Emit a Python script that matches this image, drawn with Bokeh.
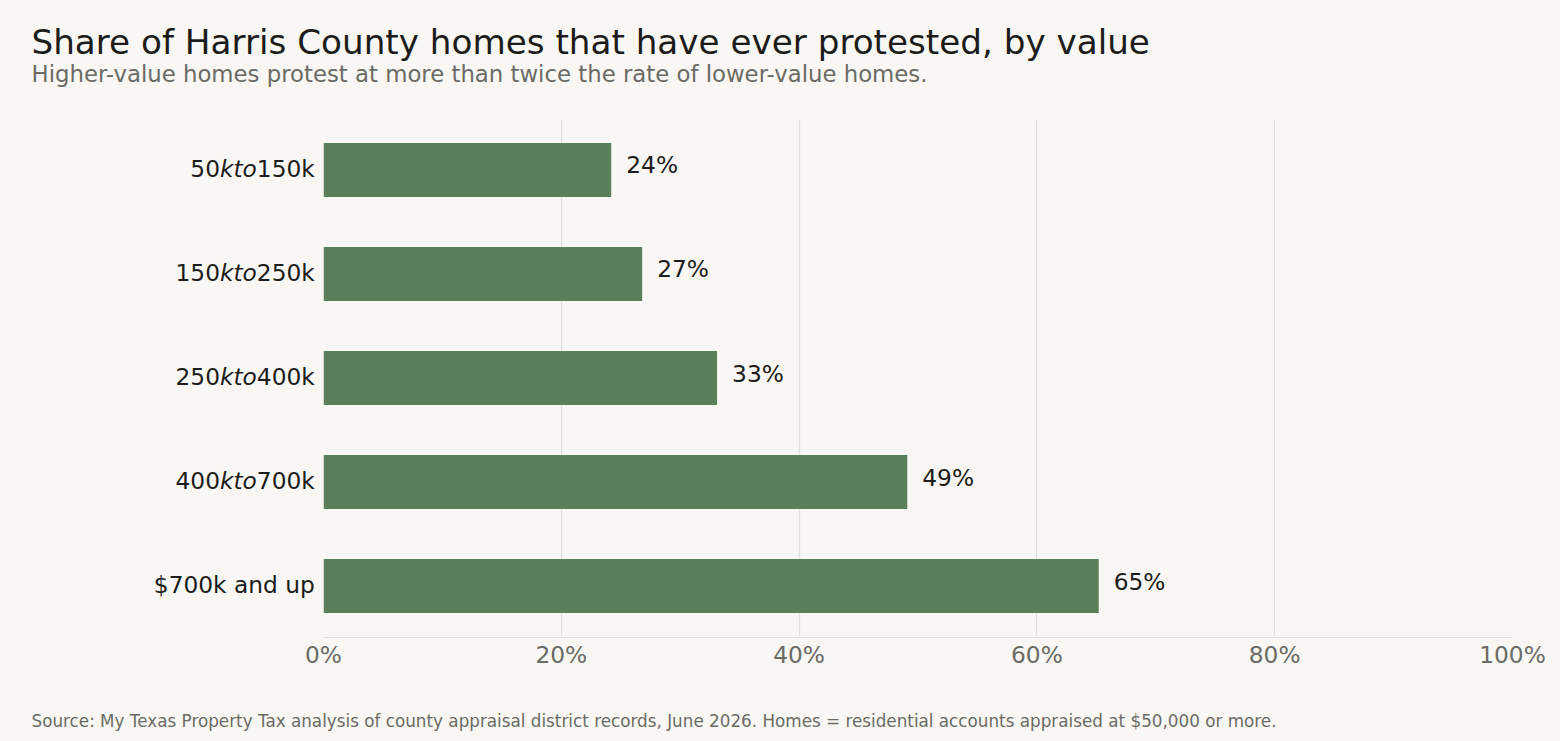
from bokeh.plotting import figure
from bokeh.layouts import column, row
from bokeh.models import Range1d, FixedTicker, PrintfTickFormatter
from bokeh.core.properties import value
from bokeh.embed import file_html
from bokeh.resources import INLINE

# ---- data ----
label_head = ["50", "150", "250", "400", "$700k and up"]
label_mid = ["kto", "kto", "kto", "kto", ""]
label_tail = ["150k", "250k", "400k", "700k", ""]
shares = [24.2, 26.8, 33.1, 49.1, 65.2]
x_ticks = [0, 20, 40, 60, 80, 100]

title = "Share of Harris County homes that have ever protested, by value"
subtitle = "Higher-value homes protest at more than twice the rate of lower-value homes."
footer = ("Source: My Texas Property Tax analysis of county appraisal district records, "
          "June 2026. Homes = residential accounts appraised at $50,000 or more.")

# ---- style ----
BG = "#f8f7f3"
BAR = "#5b7f5b"
DARK = "#1c1c1a"
GRAY = "#6b6b66"
GRID = "#e2e0da"
FONT = "DejaVu Sans"
TICK_PX = 23.3
BASE_FIX = 0.3  # baseline correction (em) for text glyphs

W, H = 1560, 741
HEAD_H = 99
MID_H = 537
AXIS_H = 53
FOOT_H = H - HEAD_H - MID_H - AXIS_H
LABEL_W = 323
FRAME_L, FRAME_R = 323, 48

# DejaVu Sans advance widths (em) for measuring label pieces
ADV = {c: 0.636 for c in "0123456789"}
ADV.update({"k": 0.579, "t": 0.392, "o": 0.612})


def text_width(s, px):
    return sum(ADV.get(c, 0.6) for c in s) * px


def blank(w, h, **kw):
    f = figure(width=w, height=h, x_axis_type=None, y_axis_type=None,
               output_backend="svg", toolbar_location=None,
               background_fill_color=BG, border_fill_color=BG,
               min_border=0, **kw)
    f.outline_line_color = None
    return f


n = len(shares)
ypos = [n - 1 - i for i in range(n)]
vals_txt = [f"{round(v)}%" for v in shares]
yr = Range1d(-0.485, n - 1 + 0.485)
xr = Range1d(0, 100)

# ---- header ----
head = blank(W, HEAD_H, x_range=Range1d(0, W), y_range=Range1d(HEAD_H, 0))
head.text(x=[31], y=[51.7 - BASE_FIX * 34.2], text=[title], text_font=value(FONT),
          text_font_size="34.2px", text_color=DARK, text_baseline="alphabetic")
head.text(x=[31], y=[80 - BASE_FIX * 22.8], text=[subtitle], text_font=value(FONT),
          text_font_size="22.8px", text_color=GRAY, text_baseline="alphabetic")

# ---- main chart ----
p = figure(width=W - LABEL_W, height=MID_H,
           min_border_left=0, min_border_right=FRAME_R,
           min_border_top=119 - HEAD_H, min_border_bottom=0,
           x_range=xr, y_range=yr,
           output_backend="svg", toolbar_location=None,
           background_fill_color=BG, border_fill_color=BG)
p.outline_line_color = None
p.hbar(y=ypos, right=shares, left=0, height=0.52, color=BAR, line_color=None)
p.text(x=shares, y=ypos, text=vals_txt, x_offset=15, y_offset=-5,
       text_align="left", text_baseline="middle", text_font=value(FONT),
       text_font_size=f"{TICK_PX}px", text_color=DARK)
p.xaxis.visible = False
p.yaxis.visible = False
p.xgrid.ticker = FixedTicker(ticks=x_ticks)
p.xgrid.grid_line_color = GRID
p.xgrid.grid_line_width = 1.2
p.ygrid.grid_line_color = None

# ---- x axis strip ----
ax = figure(width=W, height=AXIS_H, x_range=xr, y_range=Range1d(0, 1),
            y_axis_type=None, min_border_left=FRAME_L, min_border_right=FRAME_R,
            min_border_top=0, min_border_bottom=AXIS_H - 1,
            output_backend="svg", toolbar_location=None,
            background_fill_color=BG, border_fill_color=BG)
ax.outline_line_color = None
ax.xgrid.grid_line_color = None
xa = ax.xaxis[0]
xa.ticker = FixedTicker(ticks=x_ticks)
xa.formatter = PrintfTickFormatter(format="%d%%")
xa.major_tick_line_color = None
xa.minor_tick_line_color = None
xa.major_tick_out = 0
xa.major_tick_in = 0
xa.minor_tick_out = 0
xa.axis_line_color = GRID
xa.axis_line_width = 1.2
xa.major_label_standoff = 3
xa.major_label_text_font = FONT
xa.major_label_text_font_size = f"{TICK_PX}px"
xa.major_label_text_color = GRAY

# ---- category labels (mathtext-like: middle part italic) ----
lab = blank(LABEL_W, MID_H, x_range=Range1d(0, LABEL_W), y_range=yr)
lab.min_border_top = 119 - HEAD_H
anchor = LABEL_W - 8.7
tail_off = [0.0] * n
mid_off = [-text_width(t, TICK_PX) for t in label_tail]
head_off = [mid_off[i] - text_width(label_mid[i], TICK_PX) for i in range(n)]
xs = [anchor] * n
for txt, off, style in ((label_tail, tail_off, "normal"),
                        (label_mid, mid_off, "italic"),
                        (label_head, head_off, "normal")):
    lab.text(x=xs, y=ypos, text=txt, x_offset=off, y_offset=-1.5,
             text_align="right", text_baseline="middle", text_font=value(FONT),
             text_font_size=f"{TICK_PX}px", text_font_style=style, text_color=DARK)

# ---- footer ----
foot = blank(W, FOOT_H, x_range=Range1d(0, W), y_range=Range1d(FOOT_H, 0))
foot.text(x=[31], y=[725.7 - (H - FOOT_H) - BASE_FIX * 16.8], text=[footer],
          text_font=value(FONT), text_font_size="16.8px", text_color=GRAY,
          text_baseline="alphabetic")

bgstyle = {"background-color": BG}
layout = column(row(head, styles=bgstyle),
                row(lab, p, spacing=0, styles=bgstyle),
                row(ax, styles=bgstyle),
                row(foot, styles=bgstyle),
                spacing=0, styles=bgstyle)
open("out.html", "w").write(file_html(layout, INLINE))
